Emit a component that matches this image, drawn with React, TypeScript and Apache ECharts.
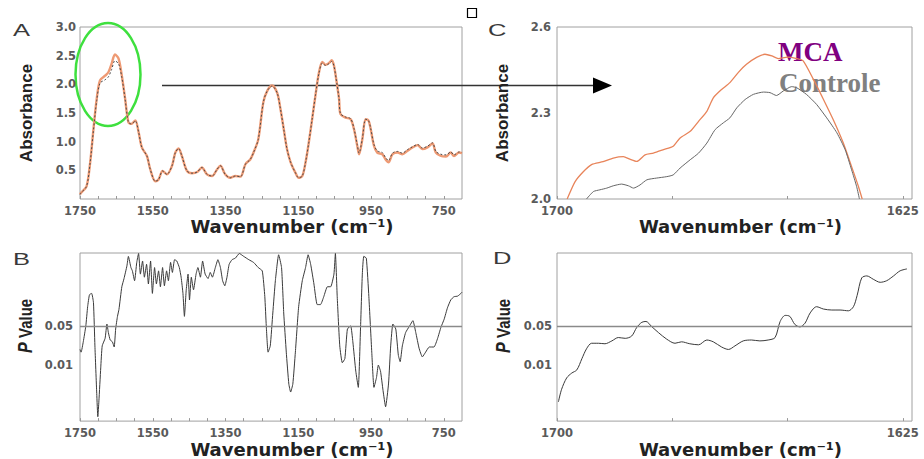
import React, { useEffect, useRef } from 'react';
import * as echarts from 'echarts';

// ---------- Panel A : absorbance spectra (1750–700 cm-1) ----------
const A_WAVENUMBER = [1750, 1747, 1732, 1722, 1713, 1704, 1695, 1681, 1672, 1663, 1654, 1644, 1635, 1626, 1617, 1609, 1598, 1589, 1580, 1566, 1557, 1543, 1534, 1523, 1511, 1497, 1488, 1479, 1470, 1456, 1442, 1428, 1415, 1401, 1387, 1373, 1364, 1351, 1337, 1323, 1309, 1295, 1282, 1273, 1260, 1246, 1235, 1222, 1208, 1199, 1190, 1181, 1171, 1158, 1149, 1139, 1130, 1121, 1112, 1103, 1093, 1084, 1075, 1066, 1058, 1052, 1046, 1038, 1034, 1020, 1006, 997, 988, 983, 974, 965, 957, 951, 942, 933, 919, 910, 902, 891, 877, 864, 850, 836, 822, 809, 795, 781, 772, 758, 744, 731, 722, 708, 700];
const A_MCA = [0.08, 0.11, 0.22, 0.64, 1.22, 1.75, 2.07, 2.15, 2.21, 2.36, 2.52, 2.45, 2.15, 1.75, 1.34, 1.31, 1.37, 1.17, 0.9, 0.75, 0.52, 0.31, 0.34, 0.49, 0.43, 0.58, 0.81, 0.88, 0.75, 0.49, 0.45, 0.47, 0.55, 0.43, 0.4, 0.52, 0.58, 0.43, 0.37, 0.4, 0.39, 0.61, 0.69, 0.81, 1.04, 1.69, 1.89, 1.98, 1.85, 1.57, 1.22, 0.87, 0.64, 0.46, 0.37, 0.4, 0.64, 0.99, 1.39, 1.8, 2.21, 2.39, 2.34, 2.37, 2.42, 2.33, 2.1, 1.75, 1.48, 1.42, 1.39, 1.22, 0.93, 0.78, 1.04, 1.39, 1.37, 1.22, 0.93, 0.81, 0.78, 0.69, 0.64, 0.78, 0.81, 0.78, 0.84, 0.9, 0.94, 0.87, 0.9, 0.97, 0.81, 0.75, 0.74, 0.81, 0.75, 0.81, 0.8];
const A_CONTROLE = [0.08, 0.11, 0.22, 0.64, 1.2, 1.72, 2.02, 2.08, 2.13, 2.26, 2.41, 2.36, 2.12, 1.74, 1.34, 1.31, 1.36, 1.17, 0.9, 0.75, 0.52, 0.31, 0.34, 0.49, 0.43, 0.58, 0.81, 0.88, 0.75, 0.49, 0.45, 0.47, 0.55, 0.43, 0.4, 0.52, 0.58, 0.43, 0.37, 0.4, 0.39, 0.61, 0.69, 0.81, 1.04, 1.69, 1.89, 1.97, 1.85, 1.57, 1.22, 0.87, 0.64, 0.46, 0.37, 0.4, 0.64, 0.99, 1.39, 1.8, 2.2, 2.37, 2.33, 2.36, 2.4, 2.32, 2.1, 1.75, 1.49, 1.43, 1.4, 1.23, 0.95, 0.8, 1.05, 1.39, 1.37, 1.23, 0.95, 0.84, 0.81, 0.72, 0.67, 0.8, 0.83, 0.8, 0.86, 0.91, 0.95, 0.89, 0.92, 0.98, 0.83, 0.78, 0.77, 0.82, 0.77, 0.82, 0.81];
const A_X_LABELS = [1750, 1550, 1350, 1150, 950, 750];
const A_X_TICKS = [1750, 1700, 1650, 1600, 1550, 1500, 1450, 1400, 1350, 1300, 1250, 1200, 1150, 1100, 1050, 1000, 950, 900, 850, 800, 750];

// ---------- Panel B : P values (1750–700 cm-1) ----------
const B_WAVENUMBER = [1750, 1747, 1741, 1734, 1729, 1724, 1718, 1713, 1709, 1704, 1701, 1698, 1693, 1689, 1681, 1676, 1672, 1667, 1661, 1656, 1652, 1647, 1643, 1635, 1629, 1621, 1617, 1610, 1606, 1600, 1594, 1589, 1584, 1578, 1573, 1567, 1562, 1556, 1551, 1545, 1540, 1534, 1529, 1523, 1518, 1512, 1507, 1501, 1496, 1490, 1484, 1477, 1472, 1467, 1463, 1458, 1453, 1449, 1444, 1438, 1431, 1426, 1419, 1413, 1406, 1398, 1392, 1386, 1378, 1371, 1364, 1358, 1352, 1346, 1340, 1332, 1323, 1312, 1300, 1286, 1273, 1260, 1249, 1242, 1238, 1233, 1227, 1220, 1213, 1204, 1196, 1190, 1183, 1176, 1171, 1165, 1158, 1149, 1139, 1130, 1123, 1116, 1107, 1098, 1089, 1080, 1070, 1061, 1052, 1048, 1043, 1036, 1029, 1022, 1015, 1006, 1000, 992, 985, 979, 974, 970, 963, 956, 948, 942, 935, 930, 924, 917, 910, 902, 896, 890, 882, 875, 870, 864, 855, 844, 835, 827, 818, 809, 800, 790, 777, 767, 758, 749, 740, 731, 722, 712, 703, 700];
const B_PVALUE = [0.019, 0.017, 0.026, 0.05, 0.11, 0.18, 0.19, 0.13, 0.022, 0.0031, 0.0012, 0.0023, 0.0089, 0.022, 0.03, 0.054, 0.038, 0.028, 0.026, 0.021, 0.044, 0.074, 0.098, 0.25, 0.35, 0.59, 0.87, 0.55, 0.48, 0.32, 0.68, 0.98, 0.42, 0.72, 0.37, 0.63, 0.28, 0.72, 0.19, 0.55, 0.28, 0.48, 0.25, 0.55, 0.26, 0.48, 0.32, 0.68, 0.45, 0.76, 0.72, 0.55, 0.37, 0.19, 0.074, 0.22, 0.42, 0.145, 0.37, 0.22, 0.42, 0.55, 0.37, 0.72, 0.42, 0.35, 0.45, 0.37, 0.55, 0.76, 0.55, 0.32, 0.26, 0.37, 0.63, 0.76, 0.81, 0.98, 0.87, 0.76, 0.68, 0.55, 0.48, 0.166, 0.05, 0.017, 0.022, 0.085, 0.32, 0.93, 0.55, 0.085, 0.017, 0.0046, 0.0033, 0.0046, 0.017, 0.11, 0.32, 0.55, 0.93, 0.63, 0.28, 0.12, 0.12, 0.166, 0.25, 0.25, 0.42, 0.98, 0.166, 0.022, 0.011, 0.013, 0.044, 0.05, 0.026, 0.0078, 0.004, 0.044, 0.42, 0.87, 0.81, 0.166, 0.017, 0.004, 0.006, 0.01, 0.0078, 0.0035, 0.0018, 0.0046, 0.022, 0.054, 0.044, 0.015, 0.0115, 0.022, 0.038, 0.05, 0.062, 0.038, 0.02, 0.014, 0.017, 0.021, 0.021, 0.03, 0.047, 0.066, 0.105, 0.145, 0.166, 0.17, 0.19, 0.2];

// ---------- Panel C : zoom 1700–1625 cm-1 ----------
const C_WAVENUMBER_MCA = [1697.8, 1696.1, 1694.3, 1692.5, 1690.0, 1687.8, 1685.6, 1684.2, 1682.7, 1680.9, 1679.1, 1676.9, 1674.8, 1673.3, 1671.1, 1669.3, 1667.5, 1666.1, 1664.3, 1662.5, 1660.7, 1658.9, 1656.7, 1654.9, 1653.4, 1652.0, 1650.0, 1648.0, 1646.6, 1644.4, 1642.2, 1640.1, 1637.9, 1636.1, 1634.6, 1633.8];
const C_MCA = [2.0, 2.06, 2.095, 2.12, 2.13, 2.143, 2.148, 2.139, 2.131, 2.154, 2.16, 2.172, 2.184, 2.213, 2.236, 2.271, 2.306, 2.353, 2.382, 2.406, 2.441, 2.47, 2.494, 2.505, 2.499, 2.49, 2.495, 2.49, 2.482, 2.418, 2.347, 2.277, 2.195, 2.113, 2.043, 2.0];
const C_WAVENUMBER_CONTROLE = [1693.6, 1692.1, 1690.7, 1689.2, 1687.8, 1686.0, 1684.5, 1683.4, 1682.0, 1680.5, 1678.4, 1676.2, 1674.8, 1673.3, 1671.1, 1669.3, 1667.5, 1665.7, 1663.9, 1662.5, 1661.0, 1659.2, 1657.4, 1655.2, 1653.8, 1652.4, 1650.9, 1649.1, 1648.0, 1645.9, 1643.7, 1641.5, 1639.3, 1637.5, 1636.1, 1635.0, 1634.4];
const C_CONTROLE = [2.0, 2.026, 2.032, 2.038, 2.046, 2.052, 2.046, 2.038, 2.049, 2.067, 2.073, 2.078, 2.084, 2.108, 2.137, 2.16, 2.195, 2.242, 2.266, 2.283, 2.318, 2.347, 2.365, 2.373, 2.371, 2.361, 2.377, 2.392, 2.388, 2.365, 2.33, 2.283, 2.231, 2.172, 2.102, 2.043, 2.0];
const C_X_LABELS = [1700, 1625];
const C_X_TICKS = [1700, 1675, 1650, 1625];

// ---------- Panel D : P values 1700–1625 cm-1 ----------
const D_WAVENUMBER = [1699.7, 1699.0, 1697.9, 1696.8, 1695.7, 1694.6, 1693.6, 1692.5, 1691.0, 1689.6, 1688.1, 1686.7, 1685.2, 1683.8, 1682.7, 1681.6, 1680.7, 1679.5, 1678.0, 1676.2, 1674.4, 1673.0, 1671.2, 1669.3, 1667.5, 1666.1, 1664.3, 1662.8, 1661.4, 1659.6, 1657.8, 1656.0, 1654.2, 1652.7, 1651.6, 1650.5, 1649.5, 1648.4, 1647.3, 1646.2, 1645.1, 1643.7, 1642.2, 1640.4, 1638.6, 1636.8, 1635.7, 1634.9, 1633.9, 1632.8, 1631.4, 1629.9, 1628.5, 1627.0, 1625.6, 1624.1];
const D_PVALUE = [0.0022, 0.0037, 0.0059, 0.0072, 0.0082, 0.013, 0.0195, 0.0245, 0.0245, 0.024, 0.027, 0.031, 0.03, 0.033, 0.047, 0.058, 0.06, 0.049, 0.038, 0.029, 0.0245, 0.026, 0.024, 0.023, 0.028, 0.026, 0.021, 0.019, 0.022, 0.027, 0.028, 0.027, 0.028, 0.031, 0.06, 0.077, 0.074, 0.053, 0.048, 0.056, 0.085, 0.11, 0.1, 0.096, 0.096, 0.093, 0.11, 0.175, 0.36, 0.39, 0.34, 0.3, 0.32, 0.39, 0.48, 0.52];

const P_LABELS = [0.05, 0.01];
const P_THRESHOLD = 0.05;

const zip = (xs: number[], ys: number[]) => xs.map((x, i) => [x, ys[i]]);

const tickFont = { fontFamily: 'DejaVu Sans', fontWeight: 'bold' as const, fontSize: 11.5, color: '#5a5a5a' };
const xNameFont = { fontFamily: 'DejaVu Sans', fontWeight: 'bold' as const, fontSize: 18, color: '#222' };
const yNameFont = { fontFamily: '"Liberation Sans Narrow", "Liberation Sans"', fontWeight: 'bold' as const, fontSize: 17, color: '#222' };

function xAxisWide(gridIndex: number, nameGap: number) {
  return {
    gridIndex, type: 'value', inverse: true, min: 700, max: 1750,
    axisLine: { show: false }, splitLine: { show: false },
    axisTick: { show: true, inside: true, length: 3, lineStyle: { color: '#999' }, customValues: A_X_TICKS },
    axisLabel: { ...tickFont, margin: 6, customValues: A_X_LABELS, formatter: (v: number) => String(Math.round(v)) },
    name: 'Wavenumber (cm⁻¹)', nameLocation: 'middle', nameGap,
    nameTextStyle: { ...xNameFont, padding: [0, 0, 0, 42] },
  };
}
function xAxisZoom(gridIndex: number, nameGap: number) {
  return {
    gridIndex, type: 'value', inverse: true, min: 1623, max: 1700,
    axisLine: { show: false }, splitLine: { show: false },
    axisTick: { show: true, inside: true, length: 3, lineStyle: { color: '#999' }, customValues: C_X_TICKS },
    axisLabel: { ...tickFont, margin: 6, customValues: C_X_LABELS, formatter: (v: number) => String(Math.round(v)) },
    name: 'Wavenumber (cm⁻¹)', nameLocation: 'middle', nameGap,
    nameTextStyle: { ...xNameFont, padding: [0, 0, 0, 12] },
  };
}
function yAxisP(gridIndex: number, margin: number) {
  return {
    gridIndex, type: 'log', logBase: 10, min: 0.001, max: 1,
    axisLine: { show: false }, splitLine: { show: false }, axisTick: { show: false },
    axisLabel: { ...tickFont, margin, customValues: P_LABELS, formatter: (v: number) => (v > 0.03 ? '0.05' : '0.01') },
  };
}
const thresholdLine = {
  silent: true, symbol: 'none', label: { show: false },
  lineStyle: { color: '#8a8a8a', type: 'solid', width: 1.4 },
  data: [{ yAxis: P_THRESHOLD }],
};

function letter(t: string, x: number, y: number) {
  return {
    type: 'text', x, y, scaleX: 1.5,
    style: { text: t, font: '17px "Liberation Sans"', fill: '#3a3a3a', verticalAlign: 'top' },
  };
}
function pValueName(x: number, y: number) {
  return {
    type: 'group', x, y, rotation: Math.PI / 2, scaleY: 1.25,
    children: [
      {
        type: 'text', x: -27, y: 0,
        style: { text: 'P', font: 'italic bold 16px "Liberation Sans"', fill: '#222', verticalAlign: 'middle', align: 'left' },
      },
      {
        type: 'text', x: -12, y: 0,
        style: { text: 'Value', font: 'bold 15px "Liberation Sans"', fill: '#222', verticalAlign: 'middle', align: 'left' },
      },
    ],
  };
}

export default function App() {
  const ref = useRef<HTMLDivElement>(null);
  useEffect(() => {
    if (!ref.current) return;
    const chart = echarts.init(ref.current, undefined, { renderer: 'svg' });
    const option: any = {
      animation: false,
      backgroundColor: '#ffffff',
      grid: [
        { left: 80, top: 27, width: 382, height: 172, show: true, borderColor: '#a0a0a0', borderWidth: 1, backgroundColor: 'transparent' },
        { left: 557, top: 27, width: 355, height: 172, show: true, borderColor: '#a0a0a0', borderWidth: 1, backgroundColor: 'transparent' },
        { left: 80, top: 253, width: 382, height: 173, show: true, borderColor: '#a0a0a0', borderWidth: 1, backgroundColor: 'transparent' },
        { left: 557, top: 253, width: 355, height: 173, show: true, borderColor: '#a0a0a0', borderWidth: 1, backgroundColor: 'transparent' },
      ],
      xAxis: [xAxisWide(0, 17), xAxisZoom(1, 17), xAxisWide(2, 14), xAxisZoom(3, 14)],
      yAxis: [
        {
          gridIndex: 0, type: 'value', min: 0, max: 3, interval: 0.5,
          axisLine: { show: false }, splitLine: { show: false }, axisTick: { show: false },
          axisLabel: { ...tickFont, margin: 4, formatter: (v: number) => (v === 0 ? '' : v.toFixed(1)) },
          name: 'Absorbance', nameLocation: 'middle', nameGap: 45, nameTextStyle: yNameFont,
        },
        {
          gridIndex: 1, type: 'value', min: 2.0, max: 2.6, interval: 0.3,
          axisLine: { show: false }, splitLine: { show: false }, axisTick: { show: false },
          axisLabel: { ...tickFont, margin: 6, formatter: (v: number) => v.toFixed(1) },
          name: 'Absorbance', nameLocation: 'middle', nameGap: 46, nameTextStyle: yNameFont,
        },
        yAxisP(2, 7),
        yAxisP(3, 5),
      ],
      series: [
        {
          name: 'MCA', type: 'line', xAxisIndex: 0, yAxisIndex: 0, data: zip(A_WAVENUMBER, A_MCA),
          showSymbol: false, smooth: 0.3, lineStyle: { color: '#ee9a74', width: 2.4 },
        },
        {
          name: 'Controle', type: 'line', xAxisIndex: 0, yAxisIndex: 0, data: zip(A_WAVENUMBER, A_CONTROLE),
          showSymbol: false, smooth: 0.3, lineStyle: { color: '#4a4a4a', width: 1, type: [2, 2] },
        },
        {
          name: 'MCA', type: 'line', xAxisIndex: 1, yAxisIndex: 1, data: zip(C_WAVENUMBER_MCA, C_MCA),
          showSymbol: false, smooth: 0.2, lineStyle: { color: '#e8845a', width: 1.3 },
        },
        {
          name: 'Controle', type: 'line', xAxisIndex: 1, yAxisIndex: 1, data: zip(C_WAVENUMBER_CONTROLE, C_CONTROLE),
          showSymbol: false, smooth: 0.2, lineStyle: { color: '#666666', width: 1 },
        },
        {
          name: 'P (A)', type: 'line', xAxisIndex: 2, yAxisIndex: 2, data: zip(B_WAVENUMBER, B_PVALUE),
          showSymbol: false, smooth: 0.15, lineStyle: { color: '#3a3a3a', width: 1 }, markLine: thresholdLine,
        },
        {
          name: 'P (C)', type: 'line', xAxisIndex: 3, yAxisIndex: 3, data: zip(D_WAVENUMBER, D_PVALUE),
          showSymbol: false, smooth: 0.3, lineStyle: { color: '#3a3a3a', width: 1 }, markLine: thresholdLine,
        },
      ],
      graphic: [
        letter('A', 13, 22),
        letter('B', 13, 251),
        letter('C', 488, 22),
        letter('D', 493, 250),
        pValueName(25.5, 326),
        pValueName(503.5, 326),
        {
          type: 'ellipse', shape: { cx: 108, cy: 74.5, rx: 32.5, ry: 51.5 },
          style: { fill: 'none', stroke: '#3ee03e', lineWidth: 2.5 },
        },
        { type: 'line', shape: { x1: 162, y1: 85.5, x2: 596, y2: 85.5 }, style: { stroke: '#333', lineWidth: 1.3 } },
        { type: 'polygon', shape: { points: [[593, 77.5], [612, 85.5], [593, 93.5]] }, style: { fill: '#000' } },
        { type: 'rect', shape: { x: 467.5, y: 8.5, width: 9, height: 9 }, style: { fill: '#fff', stroke: '#000', lineWidth: 1.2 } },
        {
          type: 'text', x: 778, y: 52,
          style: { text: 'MCA', font: 'bold 27px "Liberation Serif"', fill: '#800080', verticalAlign: 'middle' },
        },
        {
          type: 'text', x: 779, y: 83,
          style: { text: 'Controle', font: 'bold 27px "Liberation Serif"', fill: '#808080', verticalAlign: 'middle' },
        },
      ],
    };
    chart.setOption(option);
    return () => chart.dispose();
  }, []);
  return (
    <div
      ref={ref}
      style={{ position: 'fixed', left: 0, top: 0, width: 924, height: 459, background: '#fff' }}
    />
  );
}
